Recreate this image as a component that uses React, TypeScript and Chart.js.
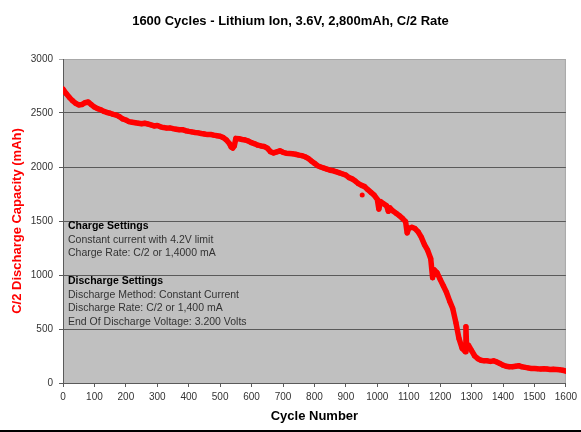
import { useRef, useEffect } from "react";
import { Chart, Plugin } from "chart.js/auto";


const chartTitle = "1600 Cycles - Lithium Ion, 3.6V, 2,800mAh, C/2 Rate";
const xTitle = "Cycle Number";
const yTitle = "C/2 Discharge Capacity (mAh)";

const cycleNumbers = [
  0, 10, 20, 30, 40, 50, 60, 70, 80, 90,
  100, 110, 120, 130, 140, 150, 160, 170, 180, 190,
  200, 210, 220, 230, 240, 250, 260, 270, 280, 290,
  300, 310, 320, 330, 340, 350, 360, 370, 380, 390,
  400, 410, 420, 430, 440, 450, 460, 470, 480, 490,
  500, 510, 520, 530, 535, 540, 545, 550, 560, 570, 580, 590,
  600, 610, 620, 630, 640, 650, 660, 670, 680, 690,
  700, 710, 720, 730, 740, 750, 760, 770, 780, 790,
  800, 810, 820, 830, 840, 850, 860, 870, 880, 890,
  900, 910, 920, 930, 940, 950, 960, 970, 980, 990,
  1000, 1005, 1010, 1020, 1030, 1035, 1040, 1050, 1060, 1070, 1080, 1090, 1095,
  1100, 1110, 1120, 1130, 1140, 1150, 1160, 1170, 1176, 1180, 1190,
  1200, 1210, 1220, 1230, 1240, 1250, 1260, 1270, 1280, 1282, 1284, 1290,
  1300, 1310, 1320, 1330, 1340, 1350, 1360, 1370, 1380, 1390,
  1400, 1410, 1420, 1430, 1440, 1450, 1460, 1470, 1480, 1490,
  1500, 1510, 1520, 1530, 1540, 1550, 1560, 1570, 1580, 1590, 1600
];

const capacity = [
  2720, 2680, 2645, 2615, 2590, 2575, 2578, 2595, 2602, 2578,
  2555, 2540, 2530, 2515, 2505, 2498, 2487, 2480, 2465, 2445,
  2435, 2420, 2415, 2410, 2405, 2400, 2405, 2398, 2390, 2380,
  2385, 2372, 2365, 2360, 2362, 2355, 2350, 2345, 2346, 2336,
  2330, 2325, 2320, 2316, 2310, 2305, 2300, 2301, 2295, 2290,
  2285, 2272, 2250, 2215, 2185, 2175, 2195, 2265, 2262, 2255, 2250, 2240,
  2225, 2215, 2202, 2195, 2190, 2175, 2142, 2130, 2140, 2150,
  2136, 2128, 2125, 2122, 2118, 2110, 2105, 2095, 2080, 2056,
  2035, 2012, 2000, 1990, 1980, 1970, 1965, 1955, 1945, 1935,
  1925, 1902, 1890, 1870, 1846, 1830, 1818, 1790, 1765, 1740,
  1700, 1610, 1680, 1660, 1640, 1590, 1622, 1592, 1572, 1550, 1525, 1495, 1390,
  1432, 1442, 1430, 1400, 1350, 1282, 1230, 1150, 975, 1050, 1022,
  960, 900, 840, 760, 690, 560, 410, 320, 290, 520, 340, 350,
  300, 250, 225, 210, 205, 205, 200, 205, 195, 180,
  165, 155, 150, 150, 155, 160, 150, 145, 140, 135,
  135, 132, 130, 132, 130, 125, 128, 125, 122, 118, 110
];

const strayCycles = [952];
const strayCapacity = [1741];

const chargeNotes = [
  "Charge Settings",
  "Constant current with 4.2V limit",
  "Charge Rate: C/2 or 1,4000 mA"
];
const dischargeNotes = [
  "Discharge Settings",
  "Discharge Method: Constant Current",
  "Discharge Rate: C/2 or 1,400 mA",
  "End Of Discharge Voltage: 3.200 Volts"
];


const FONT = "'Liberation Sans', Arial, sans-serif";

const plotDecor: Plugin = {
  id: "plotDecor",
  beforeDraw(chart) {
    const { ctx, chartArea: a } = chart;
    ctx.save();
    ctx.fillStyle = "#c0c0c0";
    ctx.fillRect(a.left, a.top, a.right - a.left, a.bottom - a.top);
    ctx.strokeStyle = "#a8a8a8";
    ctx.lineWidth = 1;
    ctx.beginPath();
    ctx.moveTo(a.right - 0.5, a.top);
    ctx.lineTo(a.right - 0.5, a.bottom);
    ctx.stroke();
    ctx.restore();
  },
  afterDraw(chart) {
    const { ctx, chartArea: a } = chart;
    ctx.save();
    ctx.textBaseline = "middle";
    ctx.textAlign = "center";
    ctx.fillStyle = "#000";
    ctx.font = `bold 13px ${FONT}`;
    ctx.fillText(chartTitle, chart.width / 2, 21);

    ctx.textAlign = "left";
    const drawBlock = (lines: string[], top: number) => {
      lines.forEach((line, i) => {
        ctx.font = i === 0 ? `bold 10.5px ${FONT}` : `10.5px ${FONT}`;
        ctx.fillStyle = i === 0 ? "#000" : "#333";
        ctx.fillText(line, a.left + 5, top + i * 13.8);
      });
    };
    drawBlock(chargeNotes, a.top + 167);
    drawBlock(dischargeNotes, a.top + 222);
    ctx.restore();
  }
};


function CycleChart() {
  const chartRef = useRef<HTMLCanvasElement>(null);

  useEffect(() => {
    if (!chartRef.current) return;

    const chart = new Chart(chartRef.current, {
      type: "scatter",
      data: {
        datasets: [
          {
            data: cycleNumbers.map((c, i) => ({ x: c, y: capacity[i] })),
            showLine: true,
            borderColor: "#ff0000",
            backgroundColor: "#ff0000",
            borderWidth: 5.5,
            borderJoinStyle: "round",
            borderCapStyle: "round",
            pointRadius: 2.5,
            pointBorderWidth: 0,
            tension: 0
          },
          {
            data: strayCycles.map((c, i) => ({ x: c, y: strayCapacity[i] })),
            backgroundColor: "#ff0000",
            pointRadius: 2.5,
            pointBorderWidth: 0
          }
        ]
      },
      options: {
        animation: false,
        responsive: true,
        maintainAspectRatio: false,
        layout: { padding: { top: 59, right: 14, left: 0, bottom: 0 } },
        plugins: {
          legend: { display: false },
          tooltip: { enabled: false },
          title: { display: false }
        },
        scales: {
          x: {
            type: "linear",
            min: 0,
            max: 1600,
            afterFit: (s) => { s.height = 47; },
            ticks: {
              stepSize: 100,
              padding: 4,
              color: "#333",
              font: { family: FONT, size: 10 },
              callback: (v) => String(v)
            },
            grid: {
              drawOnChartArea: false,
              tickLength: 4,
              color: "#5a5a5a"
            },
            border: { color: "#5a5a5a" },
            title: {
              display: true,
              text: xTitle,
              color: "#000",
              font: { family: FONT, size: 13, weight: "bold" },
              padding: { top: 0, bottom: 6 }
            }
          },
          y: {
            min: 0,
            max: 3000,
            afterFit: (s) => { s.width = 63; },
            ticks: {
              stepSize: 500,
              padding: 6,
              color: "#333",
              font: { family: FONT, size: 10 },
              callback: (v) => String(v)
            },
            grid: {
              tickLength: 4,
              color: (c) => (c.tick && c.tick.value === 3000 ? "#a8a8a8" : "#5a5a5a")
            },
            border: { color: "#5a5a5a" },
            title: {
              display: true,
              text: yTitle,
              color: "#ff0000",
              font: { family: FONT, size: 13, weight: "bold" },
              padding: { top: 10, bottom: 0 }
            }
          }
        }
      },
      plugins: [plotDecor]
    });

    return () => chart.destroy();
  }, []);

  return (
    <div style={{ position: "absolute", left: 0, top: 0, width: 581, height: 432, background: "#fff" }}>
      <div style={{ width: 581, height: 430 }}>
        <canvas ref={chartRef}></canvas>
      </div>
      <div style={{ width: 581, height: 2, background: "#000" }}></div>
    </div>
  );
}


export default function App() {
  return <CycleChart />;
}
